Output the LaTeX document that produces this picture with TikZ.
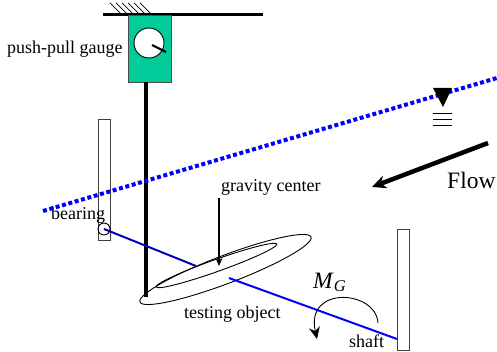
\documentclass[tikz,border=0pt]{standalone}
\usepackage{fontspec}
\setmainfont{Liberation Serif}
\usetikzlibrary{positioning, arrows.meta, calc}

\begin{document}
\begin{tikzpicture}[
			x=1pt, y=-1pt,
			% Styles
			label_text/.style={anchor=base west, inner sep=0pt, font=\fontsize{18}{20}\selectfont},
			big_text/.style={label_text, font=\fontsize{23.5}{26}\selectfont},
			beam/.style={line width=3pt, black},
			rod/.style={line width=4.5pt, black},
			hatch/.style={line width=0.7pt, black},
			support/.style={draw=black!75, line width=1pt, fill=white},
			shaft_line/.style={line width=2pt, draw=blue!75!black},
			water/.style={line width=4pt, draw=blue, dash pattern=on 4pt off 2.6pt},
			outline/.style={draw, line width=0.9pt}
			]
			\useasboundingbox (0,0) rectangle (497,352);
			
			% --- 1. Ceiling & Gauge ---
			\coordinate (BeamL) at (103,15);
			\coordinate (BeamR) at (263,15);
			\draw[beam] (BeamL) -- (BeamR);
			\foreach \i in {0,...,5} {
				\coordinate (HatchA\i) at ({110+6*\i},3);
				\coordinate (HatchB\i) at ({122+6*\i},15);
				\draw[hatch] (HatchA\i) -- (HatchB\i);
			}
			\node[draw=black!70, line width=0.8pt, fill={rgb,255:red,0;green,204;blue,153}, minimum width=43pt, minimum height=67pt, inner sep=0pt] (Gauge) at (149.5,48.5) {};
			\node[circle, draw, line width=0.9pt, fill=white, minimum size=30pt, inner sep=0pt] (Dial) at (149,43) {};
			\coordinate (NeedleA) at (152,45);
			\coordinate (NeedleB) at (166,52);
			\draw[line width=2.2pt] (NeedleA) -- (NeedleB);
			\node[label_text] (GaugeText) at (7,54) {push-pull gauge};
			
			% --- 2. Supports ---
			\node[support, minimum width=12pt, minimum height=121pt, inner sep=0pt] (BearingBar) at (104,180.5) {};
			\node[support, minimum width=12pt, minimum height=121pt, inner sep=0pt] (ShaftBar) at (403,290) {};
			\node[circle, draw, line width=0.9pt, minimum size=12pt, inner sep=0pt] (Bearing) at (104,229) {};
			
			% --- 3. Testing object ---
			\coordinate (RodTop) at (146,82);
			\coordinate (RodEnd) at (146,297);
			\draw[rod] (RodTop) -- (RodEnd);
			\draw[outline] (225.5,269.5) ellipse[x radius=91.5, y radius=14, rotate=20.8];
			\draw[outline] (216.5,265.5) ellipse[x radius=64, y radius=6, rotate=19.6];
			
			% Shaft passes behind the object
			\coordinate (ShaftA) at (196,266);
			\coordinate (ShaftB) at (229,278);
			\coordinate (ShaftEnd) at (397,339);
			\draw[shaft_line] (Bearing.center) -- (ShaftA);
			\draw[shaft_line, draw=blue] (ShaftB) -- (ShaftEnd);
			
			% Gravity center
			\coordinate (GravTop) at (219,198);
			\coordinate (GravEnd) at (219,266);
			\draw[-{Stealth[length=8pt, width=7pt]}, line width=1.3pt] (GravTop) -- (GravEnd);
			\node[label_text] (GravText) at (221,192) {gravity center};
			\node[label_text] (BearingText) at (51,220) {bearing};
			\node[label_text] (ObjectText) at (184,318) {testing object};
			\node[label_text] (ShaftText) at (349,347) {shaft};
			
			% --- 4. Moment ---
			\coordinate (MomentA) at (378,323);
			\coordinate (MomentB) at (317,339);
			\draw[-{Stealth[length=12pt, width=11pt]}, line width=0.9pt] (MomentA) .. controls (376,290) and (305,285) .. (MomentB);
			\node[big_text] (MomentText) at (313,288) {\textit{M}\textsubscript{\textit{G}}};
			
			% --- 5. Water surface & Flow ---
			\coordinate (WaterL) at (43,211);
			\coordinate (WaterR) at (497,78);
			\draw[water] (WaterL) -- (WaterR);
			\coordinate (TriA) at (433,88);
			\coordinate (TriB) at (452,88);
			\coordinate (TriC) at (443,107);
			\fill (TriA) -- (TriB) -- (TriC) -- cycle;
			\foreach \y in {113,119,125} {
				\coordinate (LevelA) at (433,\y);
				\coordinate (LevelB) at (452,\y);
				\draw[line width=0.9pt] (LevelA) -- (LevelB);
			}
			\coordinate (FlowA) at (488,143);
			\coordinate (FlowB) at (372,187);
			\draw[-{Stealth[length=14pt, width=13pt]}, line width=4.5pt] (FlowA) -- (FlowB);
			\node[big_text] (FlowText) at (447,189) {Flow};
			
		\end{tikzpicture}
\end{document}
